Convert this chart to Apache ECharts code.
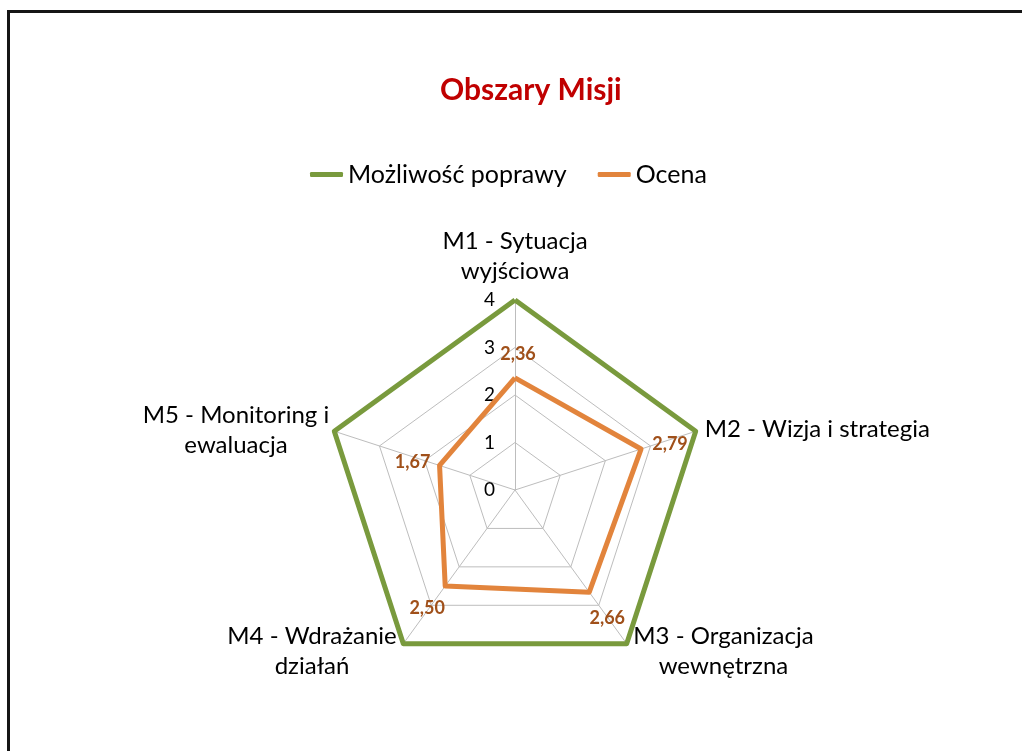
<!DOCTYPE html>
<html><head><meta charset="utf-8">
<script src="https://cdn.jsdelivr.net/npm/echarts@6/dist/echarts.min.js"></script>
<style>
html,body{margin:0;padding:0;background:#fff;overflow:hidden}
#c{position:absolute;left:0;top:0;width:1022px;height:751px}
#frame{position:absolute;left:7px;top:10px;width:1100px;height:800px;border:3px solid #161616;box-sizing:border-box;pointer-events:none}
</style></head>
<body><div id="c"></div><div id="frame"></div>
<script>
const categories = ['M1 - Sytuacja\nwyjściowa', 'M2 - Wizja i strategia', 'M3 - Organizacja\nwewnętrzna', 'M4 - Wdrażanie\ndziałań', 'M5 - Monitoring i\newaluacja'];
const seriesNames = ['Możliwość poprawy', 'Ocena'];
const mozliwosc = [4, 4, 4, 4, 4];
const ocena = [2.36, 2.79, 2.66, 2.50, 1.67];
const axisTicks = [0, 1, 2, 3, 4];

const FONT = 'Lato';
const nameSize = 24;
const nameGaps = [14, 8, 9, 9, 4];
const labelOffsets = [[3, -24], [29, -5], [18, 26], [-18, 22], [-27, -3]];
// ECharts lays indicators counter-clockwise; reorder so categories run clockwise
const order = [0, 4, 3, 2, 1];
const ord = arr => order.map(i => arr[i]);

const ctx = document.createElement('canvas').getContext('2d');
ctx.font = nameSize + 'px ' + FONT;
function longest(s) { return Math.max.apply(null, s.split('\n').map(l => ctx.measureText(l).width)); }

const rich = {};
categories.forEach((c, i) => { rich['n' + i] = { width: Math.ceil(longest(c)) + 2, align: 'center', fontSize: nameSize, fontFamily: FONT, color: '#000', lineHeight: 30 }; });

const fmt = v => v.toFixed(2).replace('.', ',');

const indicator = order.map((i, pos) => {
  const o = { name: categories[i], min: axisTicks[0], max: axisTicks[axisTicks.length - 1], nameGap: nameGaps[i] };
  if (pos === 0) o.axisLabel = { show: true };
  return o;
});

const labelItems = ocena.map((v, k) => ({
  value: ord(ocena),
  symbol: 'circle', symbolSize: 2,
  itemStyle: { color: 'rgba(0,0,0,0)' },
  lineStyle: { width: 0, opacity: 0 },
  label: {
    show: true, position: 'inside', offset: labelOffsets[k],
    fontFamily: FONT, fontWeight: 'bold', fontSize: 18, color: '#A0501A',
    formatter: p => (p.value === ocena[k] ? fmt(p.value) : '')
  }
}));

const chart = echarts.init(document.getElementById('c'), null, { renderer: 'canvas' });
chart.setOption({
  animation: false,
  backgroundColor: '#fff',
  title: {
    text: 'Obszary Misji', left: 435, top: 70,
    textStyle: { fontFamily: FONT, fontWeight: 'bold', fontSize: 30, color: '#C00000' }
  },
  legend: {
    data: seriesNames, left: 310, top: 162, itemWidth: 33, itemHeight: 5, itemGap: 31,
    icon: 'roundRect', padding: 0,
    textStyle: { fontFamily: FONT, fontSize: 25, color: '#000' }
  },
  radar: {
    center: [515, 490], radius: 190, startAngle: 90, shape: 'polygon',
    splitNumber: 4,
    indicator: indicator,
    axisName: {
      formatter: (name) => '{n' + categories.indexOf(name) + '|' + name + '}',
      rich: rich, fontFamily: FONT, fontSize: nameSize, color: '#000'
    },
    axisLabel: { show: false, color: '#000', fontFamily: FONT, fontSize: 19, margin: 20, showMinLabel: true, showMaxLabel: true },
    axisTick: { show: false },
    splitLine: { lineStyle: { color: '#BDBDBD', width: 1 } },
    splitArea: { show: false },
    axisLine: { lineStyle: { color: '#BDBDBD', width: 1 } }
  },
  series: [
    {
      type: 'radar', silent: true,
      data: [
        { name: seriesNames[0], value: ord(mozliwosc), symbol: 'none', itemStyle: { color: '#799A3D' }, lineStyle: { color: '#799A3D', width: 5 } },
        { name: seriesNames[1], value: ord(ocena), symbol: 'none', itemStyle: { color: '#E2843C' }, lineStyle: { color: '#E2843C', width: 5 } }
      ]
    },
    { type: 'radar', silent: true, z: 5, data: labelItems }
  ]
});
</script>
</body></html>
